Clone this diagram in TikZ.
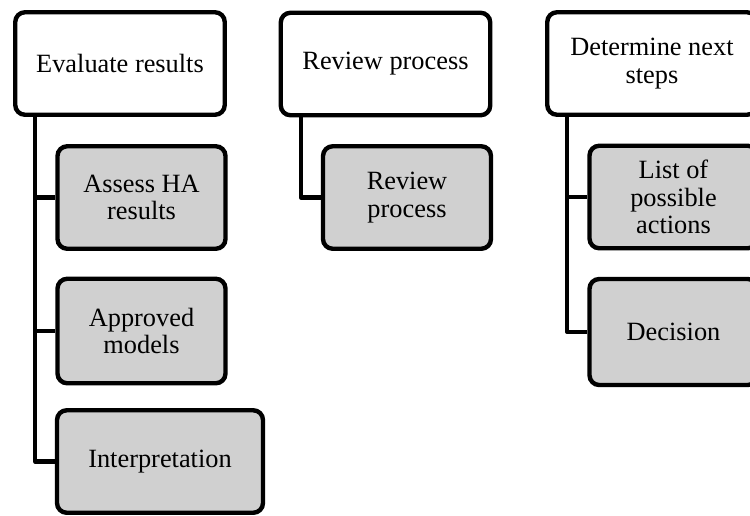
\documentclass[tikz,border=0pt]{standalone}
\usepackage{fontspec}
\setmainfont{Liberation Serif}
\usetikzlibrary{positioning}
\definecolor{cbox}{HTML}{D0D0D0}

\begin{document}
\begin{tikzpicture}[
  x=0.02cm, y=-0.02cm,
  font=\fontsize{15}{15.5}\selectfont,
  topbox/.style={draw, line width=2.5pt, rounded corners=5.5pt, fill=white, minimum width=4.19cm, minimum height=2.05cm, align=center, inner sep=2pt},
  subbox/.style={topbox, fill=cbox, minimum width=3.36cm},
  link/.style={line width=2.3pt, line join=round},
]
  \useasboundingbox (0,0) rectangle (750,515);
  \clip (0,0) rectangle (750,515);
  % --- top level ---
  \node[topbox] (evalres) at (120,63.5) {Evaluate results};
  \node[topbox] (review)  at (385.5,64) {Review process};
  \node[topbox] (nextstep) at (652,63.5) {Determine next\\steps};
  % --- sub items ---
  \node[subbox] (assess)   at (141.5,197.5) {Assess HA\\results};
  \node[subbox, minimum height=2.09cm] (approved) at (141.5,331) {Approved\\models};
  \node[subbox, minimum width=4.12cm] (interp) at (160,461.5) {Interpretation};
  \node[subbox] (revproc)  at (407,197.5) {Review\\process};
  \node[subbox] (actions)  at (673.5,197) {List of\\possible\\actions};
  \node[subbox, minimum height=2.12cm] (decision) at (673.5,332) {Decision};
  % --- links ---
  \foreach \kid in {assess,approved,interp}
    \draw[link] ([xshift=0.44cm]evalres.south west) |- (\kid.west);
  \draw[link] ([xshift=0.44cm]review.south west) |- (revproc.west);
  \foreach \kid in {actions,decision}
    \draw[link] ([xshift=0.44cm]nextstep.south west) |- (\kid.west);
\end{tikzpicture}
\end{document}
